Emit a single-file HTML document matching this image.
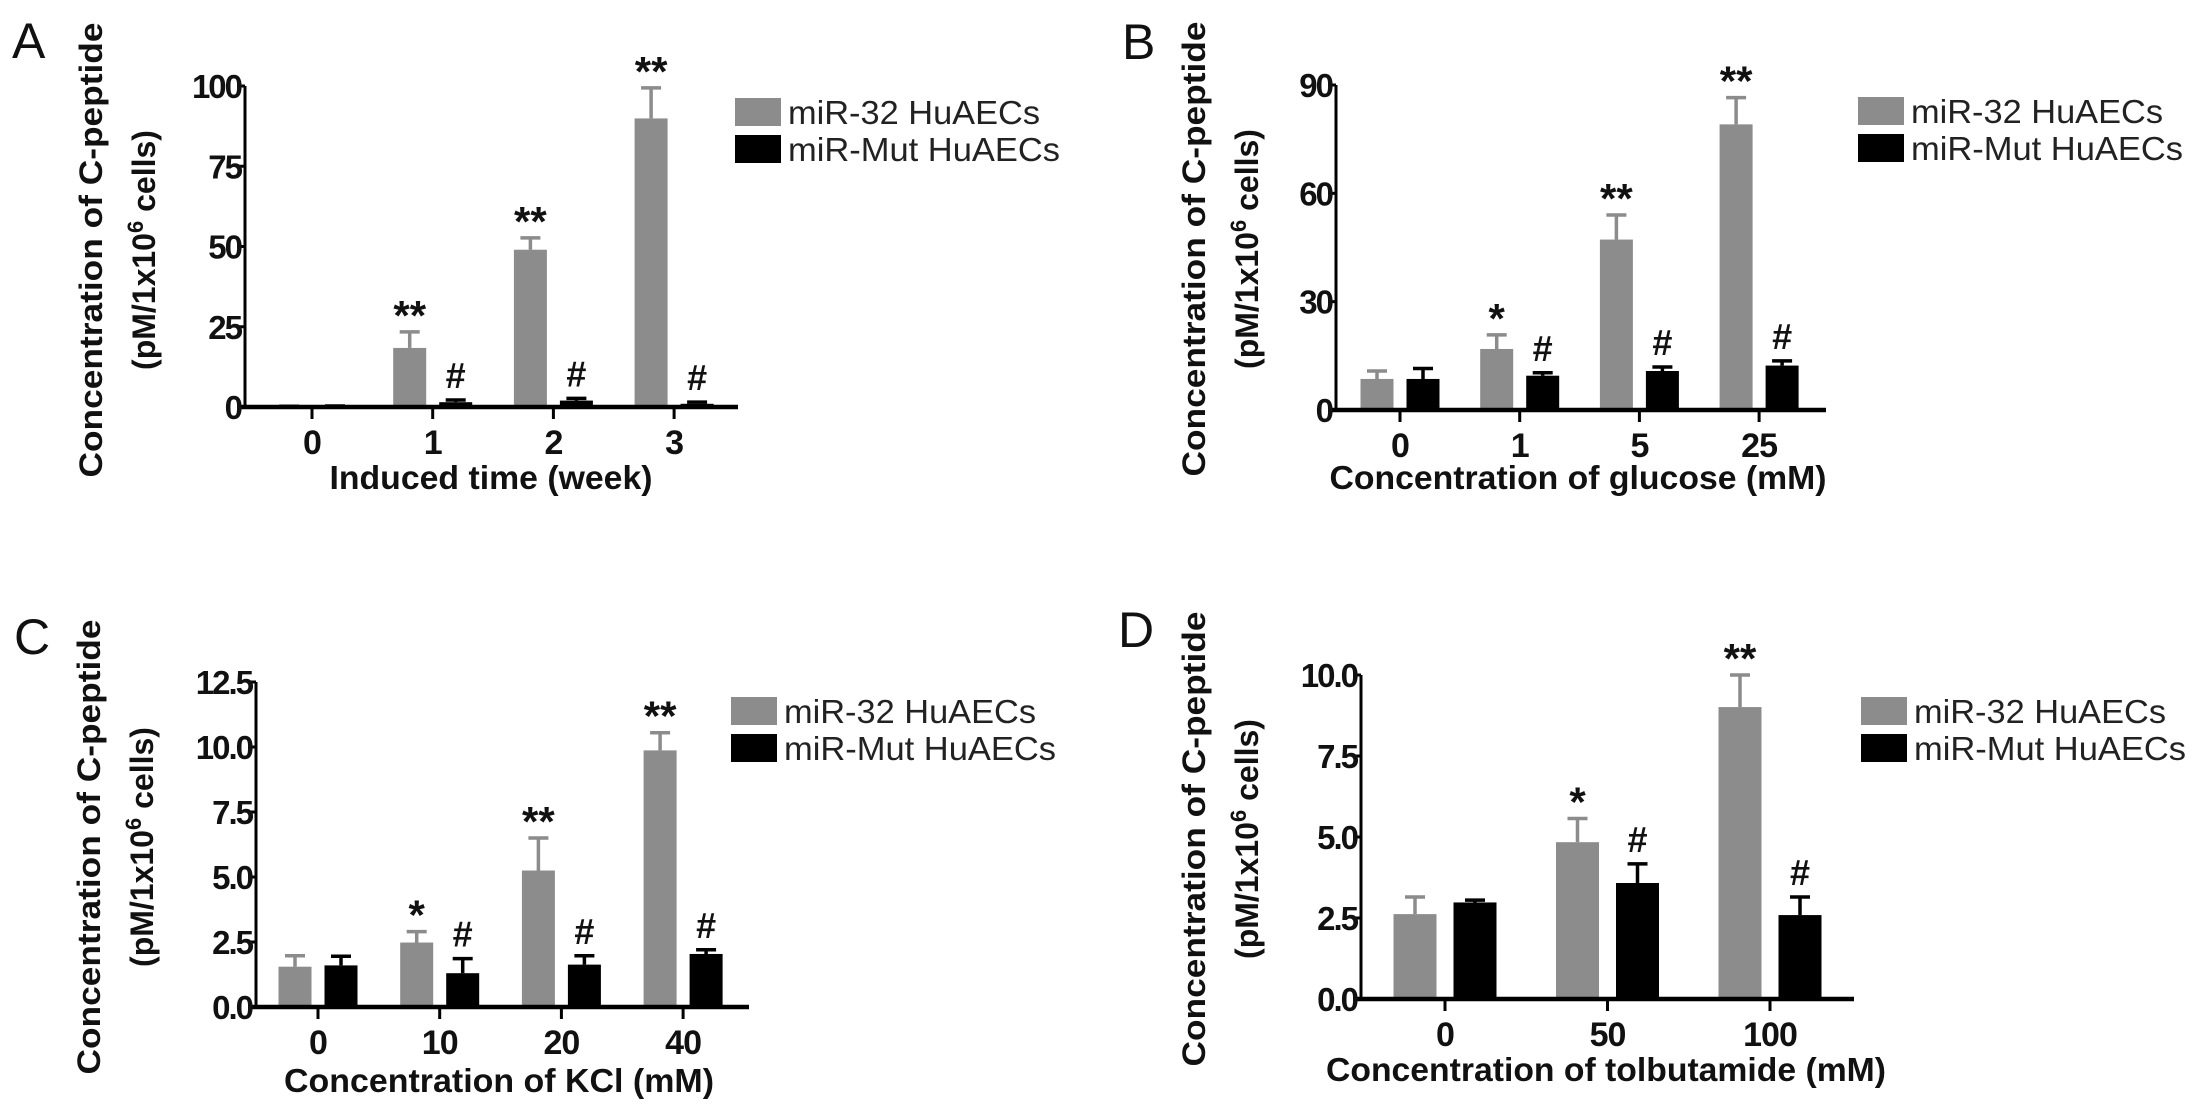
<!DOCTYPE html>
<html><head><meta charset="utf-8"><style>
html,body{margin:0;padding:0;background:#fff;}
svg{display:block;}
text{font-family:"Liberation Sans",Arial,sans-serif;}
</style></head><body>
<svg id="fig" width="2193" height="1105" viewBox="0 0 2193 1105" xmlns="http://www.w3.org/2000/svg"></svg>
<script>
// Panel A data
const catsA = ["0","1","2","3"];
const grayA = [0.3, 18.4, 49, 89.9];
const grayErrA = [0.3, 23.4, 52.7, 99.4];
const blackA = [0.3, 1.5, 2, 1];
const blackErrA = [0.3, 2.2, 2.7, 1.5];
const starsA = ["", "**", "**", "**"];
const hashA = ["", "#", "#", "#"];
const ticksA = [0, 25, 50, 75, 100];
const tickLabelsA = ["0","25","50","75","100"];
// Panel B data
const catsB = ["0","1","5","25"];
const grayB = [8.6, 16.9, 47.2, 79.1];
const grayErrB = [10.8, 20.8, 54, 86.5];
const blackB = [8.6, 9.5, 10.8, 12.3];
const blackErrB = [11.5, 10.3, 11.9, 13.6];
const starsB = ["", "*", "**", "**"];
const hashB = ["", "#", "#", "#"];
const ticksB = [0, 30, 60, 90];
const tickLabelsB = ["0","30","60","90"];
// Panel C data
const catsC = ["0","10","20","40"];
const grayC = [1.55, 2.48, 5.25, 9.87];
const grayErrC = [1.97, 2.9, 6.5, 10.55];
const blackC = [1.6, 1.3, 1.63, 2.04];
const blackErrC = [1.95, 1.86, 1.97, 2.2];
const starsC = ["", "*", "**", "**"];
const hashC = ["", "#", "#", "#"];
const ticksC = [0, 2.5, 5, 7.5, 10, 12.5];
const tickLabelsC = ["0.0","2.5","5.0","7.5","10.0","12.5"];
// Panel D data
const catsD = ["0","50","100"];
const grayD = [2.62, 4.84, 9.01];
const grayErrD = [3.15, 5.57, 10.0];
const blackD = [2.98, 3.58, 2.59];
const blackErrD = [3.05, 4.17, 3.15];
const starsD = ["", "*", "**"];
const hashD = ["", "#", "#"];
const ticksD = [0, 2.5, 5, 7.5, 10];
const tickLabelsD = ["0.0","2.5","5.0","7.5","10.0"];

const NS = "http://www.w3.org/2000/svg";
const svg = document.getElementById("fig");
function mk(tag, attrs, parent){
  const e = document.createElementNS(NS, tag);
  for (const k in attrs) e.setAttribute(k, attrs[k]);
  (parent||svg).appendChild(e);
  return e;
}

function panel(p){
  const g = mk("g", {});
  
  
  const ymax = p.ticks[p.ticks.length-1];
  const yScale = v => p.y0 - (v/ymax)*(p.y0 - p.yTop);
  const xScale = i => p.firstCat + i*p.catStep;

  const L = mk("text", {x:p.letterX, y:p.letterY, "font-size":50, fill:"#111"}, g);
  L.textContent = p.id;
  
  

  const yt = mk("text", {transform:`translate(${p.ytX},${p.ytY}) rotate(-90)`, "text-anchor":"middle", "font-size":32, "font-weight":"bold", fill:"#111", textLength:455, lengthAdjust:"spacingAndGlyphs"}, g);
  yt.textContent = "Concentration of C-peptide";
  
  
  const yt2 = mk("text", {transform:`translate(${p.ytX+53},${p.ytY}) rotate(-90)`, "text-anchor":"middle", "font-size":32, "font-weight":"bold", fill:"#111"}, g);
  yt2.innerHTML = '(pM/1x10<tspan dy="-12" font-size="22">6</tspan><tspan dy="12"> cells)</tspan>';
  
  

  const bw = p.bw, gap = p.gap;
  p.cats.forEach((c,i)=>{
    const cx = xScale(i);
    const gx = cx - gap/2 - bw, bx = cx + gap/2;
    const ge = mk("path", {d:`M${gx+bw/2},${yScale(p.gray[i])} V${yScale(p.grayErr[i])} M${gx+bw/2-10},${yScale(p.grayErr[i])} H${gx+bw/2+10}`, stroke:"#8c8c8c", "stroke-width":3.5, fill:"none"}, g);
    
    
    const gr = mk("rect", {x:gx, y:yScale(p.gray[i]), width:bw, height:p.y0-yScale(p.gray[i]), fill:"#8c8c8c"}, g);
    
    
    const be = mk("path", {d:`M${bx+bw/2},${yScale(p.black[i])} V${yScale(p.blackErr[i])} M${bx+bw/2-10},${yScale(p.blackErr[i])} H${bx+bw/2+10}`, stroke:"#000", "stroke-width":3.5, fill:"none"}, g);
    
    
    const br = mk("rect", {x:bx, y:yScale(p.black[i]), width:bw, height:p.y0-yScale(p.black[i]), fill:"#000"}, g);
    
    
    if (p.stars[i]) {
      const s = mk("text", {x:gx+bw/2, y:yScale(p.grayErr[i])-2, "text-anchor":"middle", "font-size":42, "font-weight":"bold", fill:"#111"}, g);
      s.textContent = p.stars[i];
      
      
    }
    if (p.hash[i]) {
      const h = mk("text", {x:bx+bw/2, y:yScale(p.blackErr[i])-12, "text-anchor":"middle", "font-size":36, "font-weight":"bold", fill:"#111"}, g);
      h.textContent = p.hash[i];
      
      
    }
    const xt = mk("line", {x1:cx, x2:cx, y1:p.y0, y2:p.y0+12, stroke:"#000", "stroke-width":3}, g);
    
    
    const xl = mk("text", {x:cx, y:p.y0+47, "text-anchor":"middle", "font-size":34, "font-weight":"bold", fill:"#111", "letter-spacing":-1}, g);
    xl.textContent = c;
    
    
  });

  const ya = mk("line", {x1:p.ax, x2:p.ax, y1:p.yTop, y2:p.y0+2, stroke:"#000", "stroke-width":3}, g);
  
  
  const xa = mk("line", {x1:p.ax-8, x2:p.xEnd, y1:p.y0, y2:p.y0, stroke:"#000", "stroke-width":4.5}, g);
  
  
  p.ticks.forEach((t,i)=>{
    const y = yScale(t);
    const tl = mk("line", {x1:p.ax-8, x2:p.ax, y1:y, y2:y, stroke:"#000", "stroke-width":3}, g);
    
    
    const lb = mk("text", {x:p.ax-4, y:y+12, "text-anchor":"end", "font-size":33, "font-weight":"bold", fill:"#111", "letter-spacing":-2}, g);
    lb.textContent = p.tickLabels[i];
    
    
  });

  const xtitle = mk("text", {x:p.xtX, y:p.xtY+12, "text-anchor":"middle", "font-size":33, "font-weight":"bold", fill:"#111", textLength:p.xtW, lengthAdjust:"spacingAndGlyphs"}, g);
  xtitle.textContent = p.xTitle;
  
  

  const l1 = mk("rect", {x:p.legX, y:p.legY, width:46, height:28, fill:"#8c8c8c"}, g);
  
  
  const t1 = mk("text", {x:p.legX+53, y:p.legY+26, "font-size":33, fill:"#222", textLength:252, lengthAdjust:"spacingAndGlyphs"}, g);
  t1.textContent = "miR-32 HuAECs";
  
  
  const l2 = mk("rect", {x:p.legX, y:p.legY+37, width:46, height:28, fill:"#000"}, g);
  
  
  const t2 = mk("text", {x:p.legX+53, y:p.legY+63, "font-size":33, fill:"#222", textLength:272, lengthAdjust:"spacingAndGlyphs"}, g);
  t2.textContent = "miR-Mut HuAECs";
  
  
}

panel({id:"A", cats:catsA, gray:grayA, grayErr:grayErrA, black:blackA, blackErr:blackErrA, stars:starsA, hash:hashA, ticks:ticksA, tickLabels:tickLabelsA,
  ax:245, y0:407, yTop:86, xEnd:738, firstCat:312, catStep:120.7, bw:33, gap:13,
  letterX:12, letterY:58, ytX:102, ytY:250, xtX:491, xtY:477, xtW:323, xTitle:"Induced time (week)", legX:735, legY:98});
panel({id:"B", cats:catsB, gray:grayB, grayErr:grayErrB, black:blackB, blackErr:blackErrB, stars:starsB, hash:hashB, ticks:ticksB, tickLabels:tickLabelsB,
  ax:1336, y0:410, yTop:85, xEnd:1826, firstCat:1400, catStep:119.7, bw:33, gap:13,
  letterX:1122, letterY:59, ytX:1205, ytY:249, xtX:1578, xtY:477, xtW:497, xTitle:"Concentration of glucose (mM)", legX:1858, legY:97});
panel({id:"C", cats:catsC, gray:grayC, grayErr:grayErrC, black:blackC, blackErr:blackErrC, stars:starsC, hash:hashC, ticks:ticksC, tickLabels:tickLabelsC,
  ax:256, y0:1007, yTop:682, xEnd:749, firstCat:318, catStep:121.7, bw:33, gap:13,
  letterX:14, letterY:654, ytX:100, ytY:847, xtX:499, xtY:1080, xtW:430, xTitle:"Concentration of KCl (mM)", legX:731, legY:697});
panel({id:"D", cats:catsD, gray:grayD, grayErr:grayErrD, black:blackD, blackErr:blackErrD, stars:starsD, hash:hashD, ticks:ticksD, tickLabels:tickLabelsD,
  ax:1361, y0:999, yTop:675, xEnd:1854, firstCat:1445, catStep:162.5, bw:43, gap:17,
  letterX:1118, letterY:647, ytX:1205, ytY:839, xtX:1606, xtY:1069, xtW:560, xTitle:"Concentration of tolbutamide (mM)", legX:1861, legY:697});
</script>
</body></html>
